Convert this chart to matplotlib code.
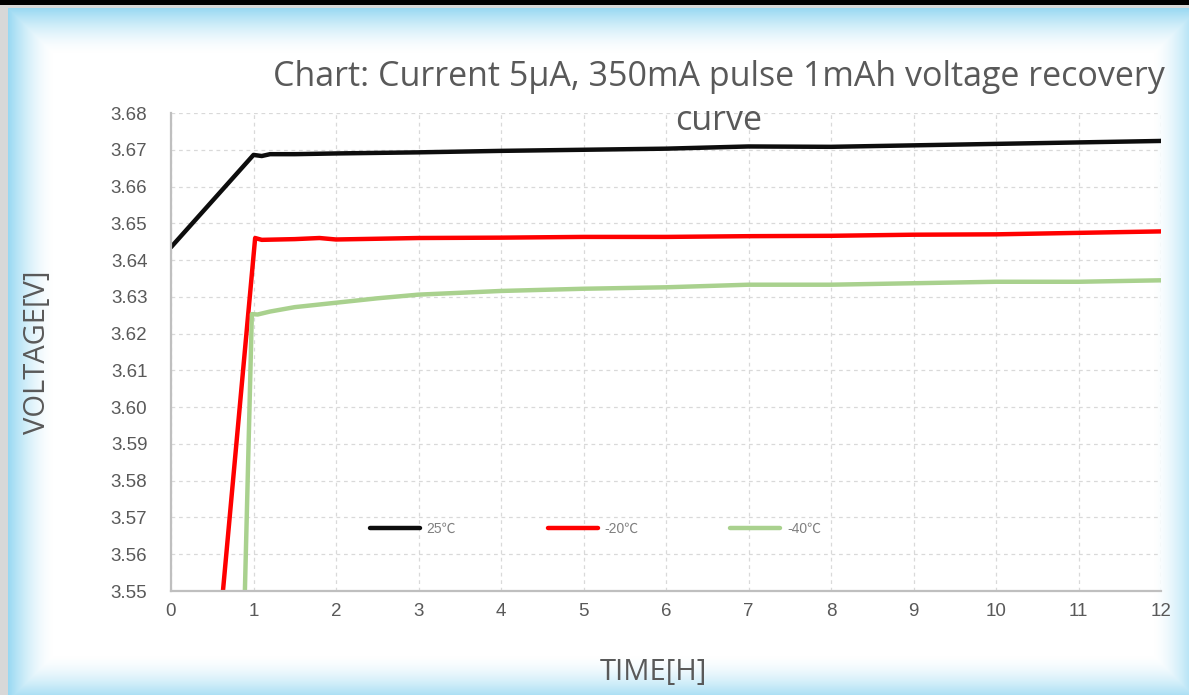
import numpy as np
import matplotlib
matplotlib.use("Agg")
import matplotlib.pyplot as plt

# data
t_25 = [0, 1.0, 1.1, 1.2, 1.5, 2, 3, 4, 5, 6, 7, 8, 9, 10, 11, 12]
v_25 = [3.6435, 3.6686, 3.6683, 3.6688, 3.6688, 3.6690, 3.6693, 3.6697, 3.6700, 3.6703, 3.6709, 3.6708, 3.6712, 3.6716, 3.6720, 3.6724]

t_m20 = [0.60, 1.02, 1.1, 1.5, 1.8, 2, 3, 4, 5, 6, 7, 8, 9, 10, 11, 12]
v_m20 = [3.5427, 3.6460, 3.6455, 3.6457, 3.6460, 3.6456, 3.6460, 3.6461, 3.6463, 3.6463, 3.6465, 3.6466, 3.6469, 3.6470, 3.6474, 3.6478]

t_m40 = [0.89, 0.98, 1.05, 1.2, 1.5, 2, 2.5, 3, 4, 5, 6, 7, 8, 9, 10, 11, 12]
v_m40 = [3.5450, 3.6253, 3.6252, 3.6260, 3.6272, 3.6284, 3.6296, 3.6306, 3.6316, 3.6322, 3.6326, 3.6333, 3.6333, 3.6337, 3.6341, 3.6341, 3.6345]

labels = ["25℃", "-20℃", "-40℃"]
colors = ["#0d0d0d", "#ff0000", "#a9d18e"]

W, H = 1189, 695
fig = plt.figure(figsize=(W / 100, H / 100), dpi=100)

# background frame: grey/black top band, light blue gradient border
bg = fig.add_axes([0, 0, 1, 1])
xx, yy = np.meshgrid(np.arange(W), np.arange(H))
d = np.minimum.reduce([xx - 8, W - 1 - xx + 10, yy - 8, H - 1 - yy + 6]).astype(float)
f = np.clip(1 - d / 45.0, 0, 1) ** 1.6
blue = np.array([0.60, 0.85, 0.95])
img = np.ones((H, W, 3)) * (1 - f[..., None]) + blue * f[..., None]
img[:, :8] = 0.85
img[:8, :] = 0.85
img[:5, :] = 0.0
bg.imshow(img, aspect="auto", extent=[0, W, H, 0])
bg.axis("off")

ax = fig.add_axes([171 / W, 1 - 591 / H, (1161 - 171) / W, (591 - 113) / H])
ax.patch.set_alpha(0)

series = [(t_25, v_25), (t_m20, v_m20), (t_m40, v_m40)]
for (t, v), lab, c in zip(series, labels, colors):
    ax.plot(t, v, color=c, lw=3.2, label=lab, solid_capstyle="round", solid_joinstyle="round")

ax.set_xlim(0, 12)
ax.set_ylim(3.55, 3.68)
ax.set_xticks(range(13))
ax.set_yticks(np.arange(3.55, 3.6801, 0.01))
ax.set_yticklabels([f"{v:.2f}" for v in np.arange(3.55, 3.6801, 0.01)])
ax.grid(True, color="#d9d9d9", ls=(0, (3, 3)), lw=0.9)
ax.set_axisbelow(True)
for s in ["top", "right"]:
    ax.spines[s].set_visible(False)
for s in ["left", "bottom"]:
    ax.spines[s].set_color("#bfbfbf")
    ax.spines[s].set_linewidth(1.6)
ax.tick_params(length=0, labelsize=13.5, labelcolor="#595959")
ax.tick_params(axis="x", pad=9)
ax.tick_params(axis="y", pad=17)
for lab in ax.get_xticklabels() + ax.get_yticklabels():
    lab.set_family("Liberation Sans")

ax.set_ylabel("VOLTAGE[V]", fontsize=21, color="#595959", family="Open Sans")
ax.set_xlabel("TIME[H]", fontsize=21, color="#595959", family="Open Sans")
ax.yaxis.set_label_coords(-0.12, 0.5)
ax.xaxis.set_label_coords(0.487, -0.14)

leg = ax.legend(ncol=3, frameon=False, loc="center left", bbox_to_anchor=(0.188, 0.13),
                handlelength=3.6, handletextpad=0.5, columnspacing=6.6,
                prop={"family": ["Liberation Sans", "Noto Sans CJK SC"], "size": 10})
for tx in leg.get_texts():
    tx.set_color("#7f7f7f")

fig.text(719 / W, 1 - 99 / H, "Chart: Current 5μA, 350mA pulse 1mAh voltage recovery\ncurve",
         ha="center", va="center", fontsize=24.5, color="#595959", family="Open Sans",
         linespacing=1.4)

fig.savefig("out.png", dpi=100)
